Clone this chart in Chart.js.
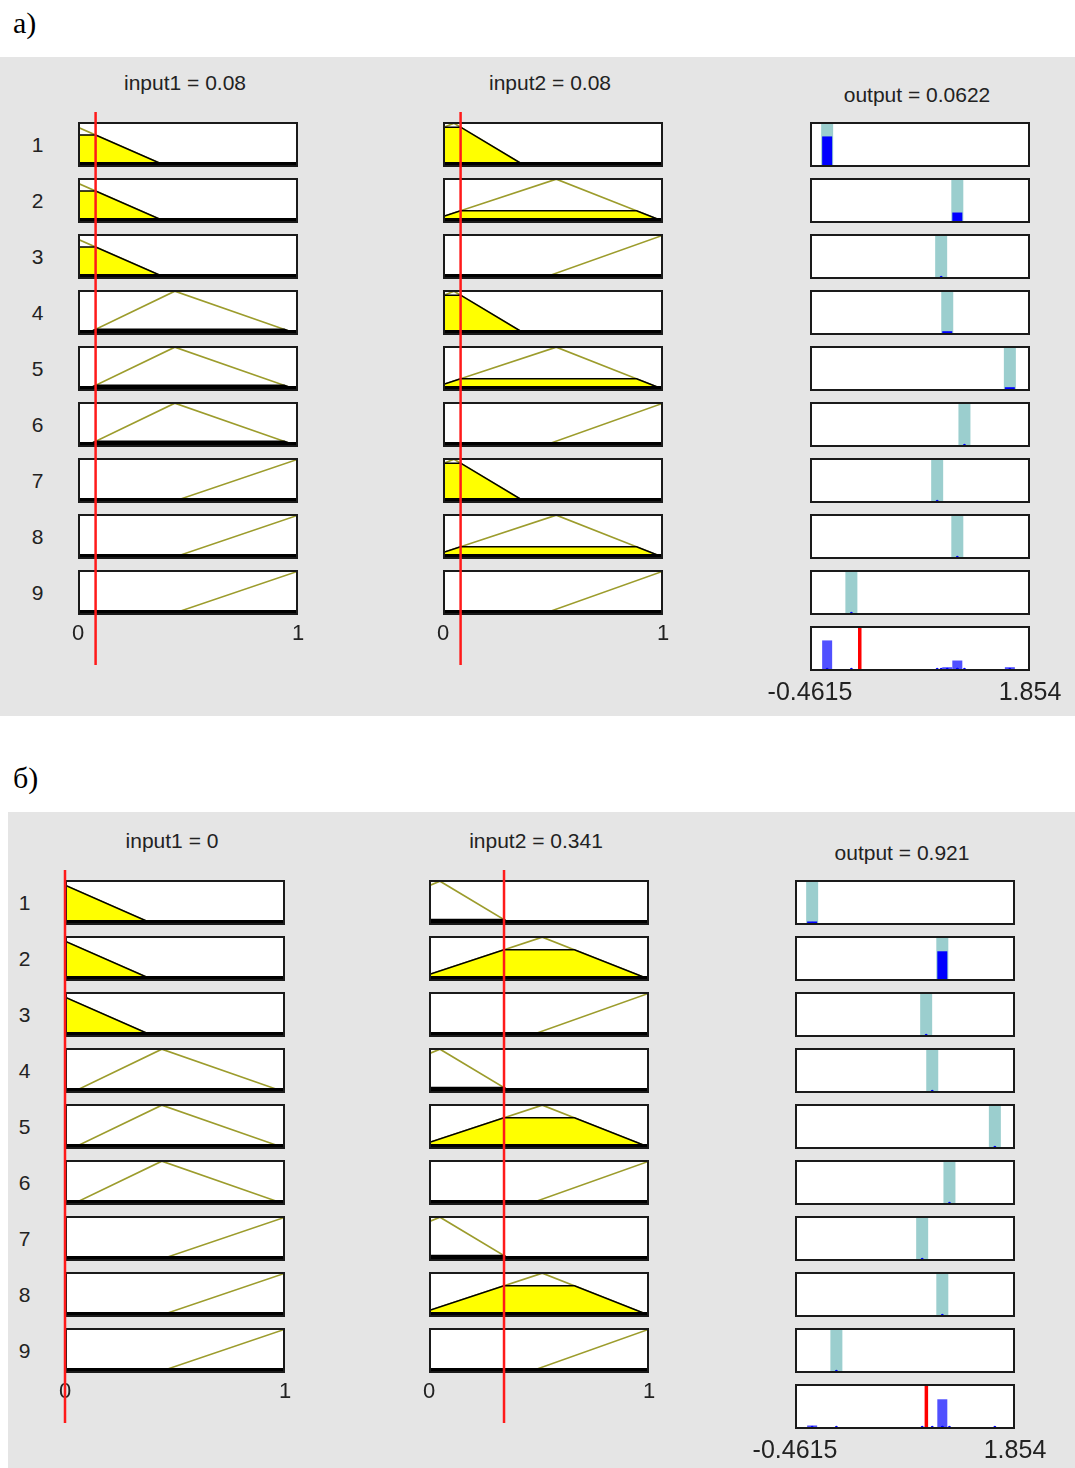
<!DOCTYPE html>
<html lang="ru">
<head>
<meta charset="UTF-8">
<title>Rule viewer</title>
<script src="https://cdn.jsdelivr.net/npm/chart.js"></script>
<style>
  body { margin: 0; background: #fff; width: 1075px; height: 1468px; position: relative; overflow: hidden;
         font-family: "Liberation Sans", Arial, sans-serif; }
  .panel { position: absolute; background: #e5e5e5; }
  .lbl { position: absolute; font-family: "Liberation Serif", "Times New Roman", serif; font-size: 30px; line-height: 30px; color: #000; }
  .ttl { position: absolute; width: 220px; text-align: center; font-size: 21px; line-height: 21px; color: #222; white-space: nowrap; }
  .num { position: absolute; width: 20px; text-align: center; font-size: 21px; line-height: 21px; color: #222; }
  canvas { position: absolute; }
</style>
</head>
<body>
<script>
  // rule base
  const ruleLabels = ['1', '2', '3', '4', '5', '6', '7', '8', '9'];
  const varNames = ['input1', 'input2', 'output'];
  // triangular membership functions [left foot, peak, right foot]
  const input1MF = [[-0.46, -0.042, 0.375], [0.06, 0.44, 0.965], [0.46, 1.0, 1.54]];
  const input2MF = [[-0.4, 0.05, 0.355], [-0.04, 0.515, 0.98], [0.485, 1.0, 1.515]];
  const ruleIn1 = [0, 0, 0, 1, 1, 1, 2, 2, 2];
  const ruleIn2 = [0, 1, 2, 0, 1, 2, 0, 1, 2];
  const ruleOut = [-0.281, 1.089, 0.919, 0.983, 1.642, 1.164, 0.877, 1.089, -0.026];
  const inputTicks = ['0', '1'];
  const outputTicks = ['-0.4615', '1.854'];
  const outMin = -0.4615, outMax = 1.854;
  // the two panels
  const panelNames = ['а)', 'б)'];
  const input1Val = [0.08, 0];
  const input2Val = [0.08, 0.341];
  const outputVal = [0.0622, 0.921];

  const panels = [
    { bg: [0, 57, 1075, 659], label: [13, 8], top: 122, cols: [78, 443, 810] },
    { bg: [8, 812, 1067, 656], label: [13, 763], top: 880, cols: [65, 429, 795] }
  ];
  const W = 220, H = 45, PITCH = 56;
  const inY = [-0.09, 1.03], outY = [-0.04, 1.06];

  function tri(p, x) {
    const [a, b, c] = p;
    if (x === b) return 1;
    if (x <= a || x >= c) return 0;
    return x < b ? (x - a) / (b - a) : (c - x) / (c - b);
  }
  // corner points of the MF (optionally cut at level h) on [0, 1]
  function mfPoints(p, h) {
    const [a, b, c] = p;
    let xs = [0, 1, a, b, c];
    if (h !== undefined) xs.push(a + h * (b - a), c - h * (c - b));
    xs = xs.filter(x => x >= 0 && x <= 1).sort((m, n) => m - n);
    return xs.map(x => ({ x, y: h === undefined ? tri(p, x) : Math.min(tri(p, x), h) }));
  }

  const boxPlugin = {
    id: 'box',
    beforeDraw(chart, args, opts) {
      if (!opts.on) return;
      const a = chart.chartArea, ctx = chart.ctx;
      ctx.save();
      ctx.fillStyle = '#fff';
      ctx.fillRect(a.left, a.top, a.width, a.height);
      ctx.restore();
    },
    afterDraw(chart, args, opts) {
      if (!opts.on) return;
      const a = chart.chartArea, ctx = chart.ctx;
      ctx.save();
      ctx.strokeStyle = '#1a1a1a';
      ctx.lineWidth = 2;
      ctx.strokeRect(a.left + 1, a.top + 1, a.width - 2, a.height - 2);
      ctx.restore();
    }
  };

  function addChart(o) {
    const cv = document.createElement('canvas');
    cv.width = o.w; cv.height = o.h;
    cv.style.left = o.left + 'px'; cv.style.top = o.top + 'px';
    document.body.appendChild(cv);
    const t = o.ticks;
    new Chart(cv, {
      type: 'line',
      data: { datasets: o.datasets },
      options: {
        responsive: false, animation: false, events: [],
        layout: { padding: o.pad || 0, autoPadding: false },
        elements: { point: { radius: 0 }, line: { tension: 0 } },
        plugins: { legend: { display: false }, tooltip: { enabled: false }, box: { on: o.box } },
        scales: {
          x: {
            type: 'linear', min: o.xr[0], max: o.xr[1], display: !!t,
            grid: { display: false, drawTicks: false }, border: { display: false },
            afterBuildTicks: s => { s.ticks = [{ value: o.xr[0] }, { value: o.xr[1] }]; },
            afterFit: s => { if (t) s.height = t.h; },
            ticks: t ? { autoSkip: false, maxRotation: 0, padding: t.pad, color: '#222',
                         font: { family: '"Liberation Sans", Arial, sans-serif', size: t.size },
                         callback: (v, i) => t.labels[i] } : {}
          },
          y: { type: 'linear', min: o.yr[0], max: o.yr[1], display: false }
        }
      },
      plugins: [boxPlugin]
    });
  }

  function addDiv(cls, text, left, top) {
    const d = document.createElement('div');
    d.className = cls; d.textContent = text;
    d.style.left = left + 'px'; d.style.top = top + 'px';
    document.body.appendChild(d);
    return d;
  }

  panels.forEach((P, k) => {
    const bg = addDiv('panel', '', P.bg[0], P.bg[1]);
    bg.style.width = P.bg[2] + 'px'; bg.style.height = P.bg[3] + 'px';
    addDiv('lbl', panelNames[k], P.label[0], P.label[1]);

    const vals = [input1Val[k], input2Val[k], outputVal[k]];
    addDiv('ttl', varNames[0] + ' = ' + vals[0], P.cols[0] - 3, P.top - 50);
    addDiv('ttl', varNames[1] + ' = ' + vals[1], P.cols[1] - 3, P.top - 50);
    addDiv('ttl', varNames[2] + ' = ' + vals[2], P.cols[2] - 3, P.top - 38);

    const mfs = [input1MF, input2MF];
    const idx = [ruleIn1, ruleIn2];
    const strength = ruleLabels.map((_, i) =>
      Math.min(tri(input1MF[ruleIn1[i]], vals[0]), tri(input2MF[ruleIn2[i]], vals[1])));

    ruleLabels.forEach((lab, i) => {
      const top = P.top + i * PITCH;
      const last = i === ruleLabels.length - 1;
      addDiv('num', lab, P.cols[0] - 50.5, top + 12);

      // antecedents
      for (let j = 0; j < 2; j++) {
        const p = mfs[j][idx[j][i]];
        const mu = tri(p, vals[j]);
        addChart({
          left: P.cols[j] - (last ? 30 : 0), top, w: W + (last ? 60 : 0), h: H + (last ? 35 : 0),
          pad: last ? { left: 30, right: 30, top: 0, bottom: 0 } : 0,
          xr: [0, 1], yr: inY, box: true,
          ticks: last ? { labels: inputTicks, size: 22, pad: 6, h: 35 } : null,
          datasets: [
            { data: [{ x: 0, y: 0 }, { x: 1, y: 0 }], borderColor: '#000', borderWidth: 3, order: 0 },
            { data: mfPoints(p, mu), borderColor: '#000', borderWidth: 1.5, backgroundColor: '#ffff00', fill: 'origin', order: 1 },
            { data: mfPoints(p), borderColor: '#9c9c2c', borderWidth: 1.6, order: 2 }
          ]
        });
      }

      // consequent
      const v = ruleOut[i];
      addChart({
        left: P.cols[2], top, w: W, h: H, xr: [outMin, outMax], yr: outY, box: true,
        datasets: [
          { data: [{ x: v, y: 0 }, { x: v, y: strength[i] }], borderColor: '#0000ff', borderWidth: 10,
            pointRadius: [1.5, 0], pointBackgroundColor: '#0000ff', pointBorderWidth: 0, order: 0 },
          { data: [{ x: v, y: 0 }, { x: v, y: outY[1] }], borderColor: 'rgb(155,206,206)', borderWidth: 12, order: 1 }
        ]
      });
    });

    // aggregated output
    const aggSets = [
      { data: [{ x: vals[2], y: outY[0] }, { x: vals[2], y: outY[1] }], borderColor: '#ff0000', borderWidth: 3.5, order: 0 },
      { data: ruleOut.map(v => ({ x: v, y: 0 })), showLine: false, pointRadius: 1.5,
        pointBackgroundColor: '#0000ff', pointBorderWidth: 0, order: 1 }
    ];
    ruleOut.forEach((v, i) => {
      if (strength[i] > 0) aggSets.push({ data: [{ x: v, y: 0 }, { x: v, y: strength[i] }],
        borderColor: 'rgb(80,80,255)', borderWidth: 10, order: 2 });
    });
    addChart({
      left: P.cols[2] - 60, top: P.top + 9 * PITCH, w: W + 120, h: H + 40,
      pad: { left: 60, right: 60, top: 0, bottom: 0 },
      xr: [outMin, outMax], yr: outY, box: true,
      ticks: { labels: outputTicks, size: 25, pad: 7, h: 40 },
      datasets: aggSets
    });

    // input value markers
    for (let j = 0; j < 2; j++) {
      addChart({
        left: P.cols[j] - 10, top: P.top - 10, w: W + 20, h: 8 * PITCH + H + 60,
        pad: { left: 10, right: 10, top: 0, bottom: 0 },
        xr: [0, 1], yr: [0, 1], box: false,
        datasets: [{ data: [{ x: vals[j], y: 0 }, { x: vals[j], y: 1 }], borderColor: '#ff1a1a', borderWidth: 2.5, clip: false }]
      });
    }
  });
</script>
</body>
</html>
